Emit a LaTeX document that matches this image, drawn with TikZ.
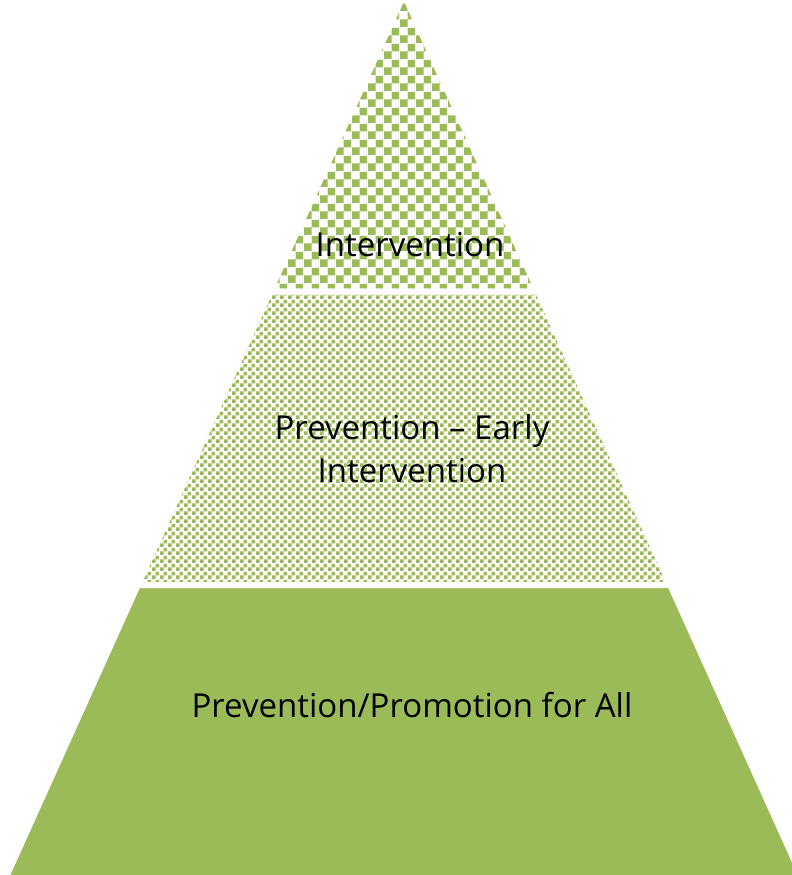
\documentclass[tikz,border=0pt]{standalone}
\usepackage{fontspec}
\setmainfont{Open Sans}
\usetikzlibrary{patterns}

\definecolor{leafgreen}{HTML}{9BBB59}

% checkerboards with 8pt and 4pt squares
\pgfdeclarepatternformonly{coarsechecker}{\pgfpointorigin}{\pgfqpoint{16pt}{16pt}}{\pgfqpoint{16pt}{16pt}}{%
  \pgfpathrectangle{\pgfpointorigin}{\pgfqpoint{8pt}{8pt}}%
  \pgfpathrectangle{\pgfqpoint{8pt}{8pt}}{\pgfqpoint{8pt}{8pt}}%
  \pgfusepath{fill}}
\pgfdeclarepatternformonly{finechecker}{\pgfpointorigin}{\pgfqpoint{8pt}{8pt}}{\pgfqpoint{8pt}{8pt}}{%
  \pgfpathrectangle{\pgfpointorigin}{\pgfqpoint{4pt}{4pt}}%
  \pgfpathrectangle{\pgfqpoint{4pt}{4pt}}{\pgfqpoint{4pt}{4pt}}%
  \pgfusepath{fill}}

\begin{document}
\begin{tikzpicture}[
    x=1pt,
    y=-1pt,
    layer/.style={draw=white, line width=6pt, line join=round},
    lab/.style={font=\fontsize{33}{43}\selectfont, align=center, text=black}
  ]
    \useasboundingbox (0,0) rectangle (792,875);
    \clip (0,0) rectangle (792,875);

    % top layer
    \path[layer, pattern=coarsechecker, pattern color=leafgreen]
      (404,-6) -- (538,291.5) -- (270,291.5) -- cycle;
    % middle layer
    \path[layer, pattern=finechecker, pattern color=leafgreen]
      (270,291.5) -- (538,291.5) -- (670.2,585) -- (137.8,585) -- cycle;
    % bottom layer
    \path[layer, fill=leafgreen]
      (137.8,585) -- (670.2,585) -- (803.2,880) -- (4.8,880) -- cycle;

    \node[lab] (top) at (410,245) {Intervention};
    \node[lab] (mid) at (412,449) {Prevention -- Early\\Intervention};
    \node[lab] (base) at (412,705) {Prevention/Promotion for All};
  \end{tikzpicture}
\end{document}
